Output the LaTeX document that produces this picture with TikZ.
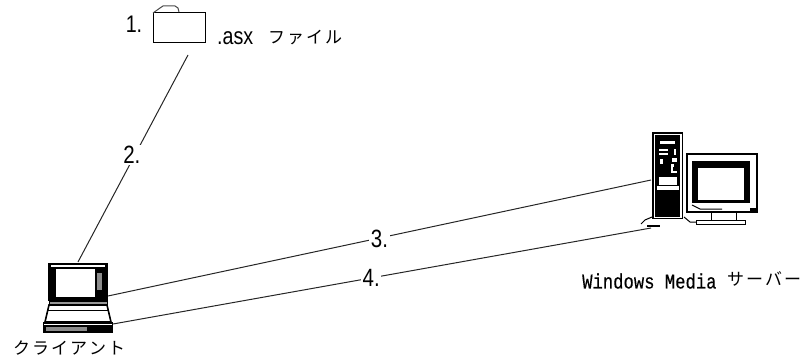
\documentclass[tikz,border=0pt]{standalone}
\usepackage{fontspec}
\setmainfont{Liberation Sans}
\newfontfamily\cjk{Noto Sans CJK JP}
\newfontfamily\monof[FakeStretch=0.82,FakeBold=0.25]{Liberation Mono}
\newfontfamily\narrowf[FakeStretch=0.82]{Liberation Sans}
\tikzset{
  x=1pt,y=-1pt,
  link/.style={draw=black!85,line width=1pt},
  steplabel/.style={font=\narrowf\fontsize{25}{25}\selectfont,fill=white,inner sep=1.5pt},
  plain/.style={inner sep=0pt,anchor=west},
  icon/.style={draw=black,line width=1pt},
  thick icon/.style={draw=black,line width=1.6pt},
  jp/.style={plain,font=\cjk\fontsize{17}{17}\selectfont},
}
\begin{document}
\begin{tikzpicture}
\useasboundingbox (0,0) rectangle (806,361);
% anchors
\coordinate (folderS) at (188,55);
\coordinate (laptopN) at (78,262);
\coordinate (laptopE) at (108,296);
\coordinate (laptopB) at (113,324);
\coordinate (serverW) at (651,180);
\coordinate (serverF) at (651,228);
% connectors
\draw[link] (folderS) -- node[steplabel,pos=.483,xshift=-3pt] (s2) {2.} (laptopN);
\draw[link] (laptopE) -- node[steplabel,pos=.5,yshift=-1pt] (s3) {3.} (serverW);
\draw[link] (laptopB) -- node[steplabel,pos=.48] (s4) {4.} (serverF);
% folder
\draw[icon,fill=white] (153,13) rectangle (205,43);
\draw[icon,draw=black!70] (153,13) -- (160,8) -- (163,6) -- (175,6) -- (178,8) -- (179,12);
\node[font=\narrowf\fontsize{24}{24}\selectfont,inner sep=0pt] (s1) at (134,24) {1.};
\node[plain,font=\narrowf\fontsize{24}{24}\selectfont] (asx) at (217,38) {.asx};
\node[jp] (fl) at (268,38) {フ\hspace{2pt}ァ\hspace{2pt}イ\hspace{2pt}ル};
% laptop
\fill[black] (48,263) rectangle (108,301);
\fill[white] (51,265) rectangle (105,267);
\fill[white] (56,269) rectangle (95,297);
\fill[black!45] (97,273) rectangle (102,290);
\draw[icon,fill=black!40] (49,301) rectangle (107,305);
\draw[thick icon,fill=white] (49,305) -- (107,305) -- (111,322) -- (45,322) -- cycle;
\draw[line width=.8pt] (48,310) -- (108,310);
\fill[black] (43,322) rectangle (113,333);
\fill[black!45] (46,327) rectangle (87,331);
\fill[white] (44,323.5) rectangle (112,325);
% server
\fill[black] (652,132) rectangle (683,219);
\fill[white] (653.5,133.5) rectangle (681.5,217.5);
\fill[black] (655,135) rectangle (680,217);
\fill[white] (660,141) rectangle (675,144);
\fill[white] (659,149) rectangle (668,151);
\fill[white] (659,153) rectangle (668,155);
\fill[white] (674,149) rectangle (676,155);
\fill[white] (660,159) rectangle (663,164);
\fill[white] (672,158) rectangle (677,162);
\fill[white] (671,164) rectangle (674,167);
\fill[white] (671,167) rectangle (673,171);
\fill[white] (671,171) rectangle (677,173);
\fill[white] (659,177) rectangle (677,185);
\fill[white] (657,186) rectangle (679,190);
\draw[icon] (641,224) -- (645,220) -- (652,217);
\fill[black] (647,225) rectangle (660,227);
\draw[icon] (684,217) -- (690,222) -- (696,222);
% monitor
\draw[icon,fill=white,line width=1.3pt] (687,154) rectangle (757,212);
\fill[black] (692,161) rectangle (750,203);
\fill[white] (698,168) rectangle (744,200);
\draw[line width=1pt] (692,205) -- (700,209) -- (722,209);
\fill[black] (750,208) rectangle (756,211);
\draw[icon,fill=white] (711,212) rectangle (736,221);
\draw[icon,fill=white] (696,220) rectangle (745,224);
% labels
\node[jp] (client) at (13,348) {ク\hspace{2pt}ラ\hspace{2pt}イ\hspace{2pt}ア\hspace{2pt}ン\hspace{2pt}ト};
\node[plain,font=\monof\fontsize{21}{21}\selectfont] (wm) at (582,281) {Windows Media};
\node[jp] (sv) at (727,279) {サ\hspace{2pt}ー\hspace{2pt}バ\hspace{2pt}ー};
\end{tikzpicture}
\end{document}
